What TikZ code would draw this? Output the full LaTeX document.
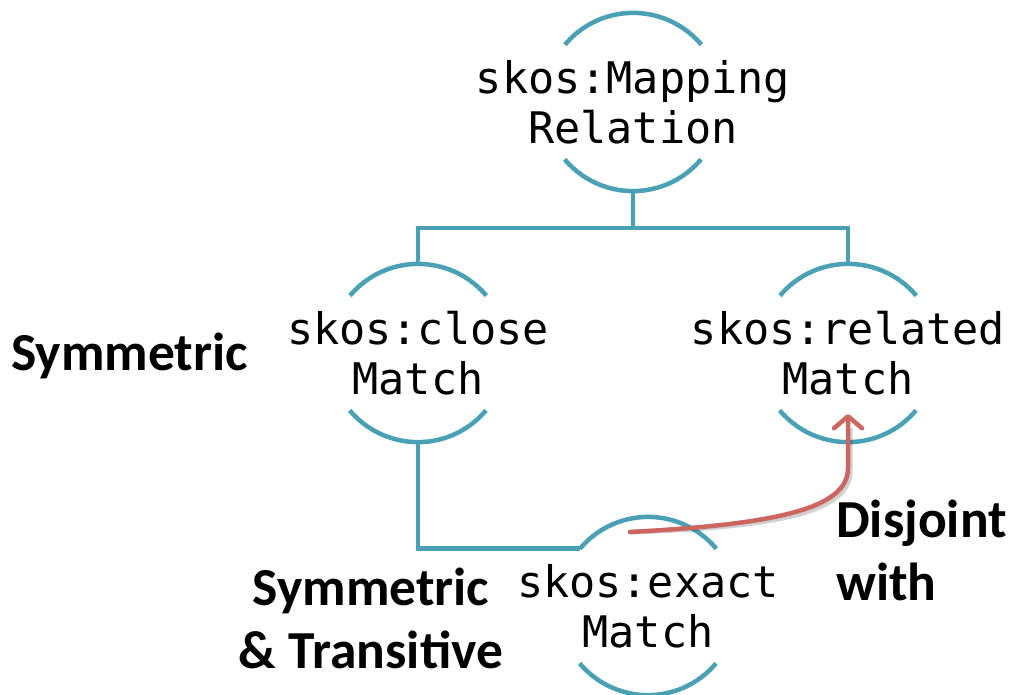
\documentclass[tikz,border=0pt]{standalone}
\usepackage{fontspec}
\setmainfont{Carlito}
\newfontfamily\monofam{DejaVu Sans Mono}
\usetikzlibrary{arrows.meta}
\definecolor{teal}{RGB}{74,160,181}
\definecolor{redline}{RGB}{205,102,96}
\tikzset{
  concept/.style={circle, minimum size=178pt, inner sep=0pt, draw=none},
  ctext/.style={font=\monofam\fontsize{43.5}{50}\selectfont, align=center, inner sep=0pt},
  prop/.style={font=\bfseries\fontsize{53.5}{63}\selectfont, inner sep=0pt},
  rim/.style={draw=teal, line width=4.5pt},
  link/.style={draw=teal, line width=4.5pt},
  disj/.style={draw=redline, line width=4.5pt, line cap=round,
    -{Straight Barb[length=12pt, width=28pt, line width=4.5pt, round]}},
  disjshadow/.style={draw=black, line width=5pt, opacity=0.18},
}
\newcommand{\rims}[1]{%
  \draw[rim] (#1.40) arc[start angle=40, end angle=140, radius=89pt];
  \draw[rim] (#1.220) arc[start angle=220, end angle=320, radius=89pt];
}
\begin{document}
\begin{tikzpicture}[x=1pt, y=1pt]
\useasboundingbox (0,0) rectangle (1011,-694);

% concept circles
\node[concept] (map) at (633,-102) {};
\node[concept] (close) at (418,-353) {};
\node[concept] (rel) at (848,-353) {};
\node[concept] (exact) at (648,-606) {};

\rims{map}
\rims{close}
\rims{rel}
\rims{exact}

% concept names
\node[ctext] (mapT) at (map.center) {skos:Mapping\\Relation};
\node[ctext] (closeT) at (close.center) {skos:close\\Match};
\node[ctext] (relT) at (rel.center) {skos:related\\Match};
\node[ctext] (exactT) at (exact.center) {skos:exact\\Match};

% hierarchy connectors
\coordinate (fork) at ([yshift=-37pt]map.south);
\draw[link] (map.south) -- (fork) -| (close.north);
\draw[link] (fork) -| (rel.north);
\draw[link] (close.south) |- (exact.140);

% disjointness arrow, with a soft shadow underneath
\coordinate (dstart) at (630,-532);
\coordinate (dtip) at (848,-414);
\draw[disjshadow, shift={(2,-3)}] (dstart) .. controls (780,-524) and (848,-508) .. (848,-468) -- (848,-425);
\draw[disj] (dstart) .. controls (780,-524) and (848,-508) .. (848,-468) -- (dtip);

% property labels
\node[prop, anchor=west] (sym) at (11,-356) {Symmetric};
\node[prop, align=center] (symtr) at (371,-618) {Symmetric\\\& Transitive};
\node[prop, align=left, anchor=west] (dis) at (836,-550) {Disjoint\\with};
\end{tikzpicture}
\end{document}
